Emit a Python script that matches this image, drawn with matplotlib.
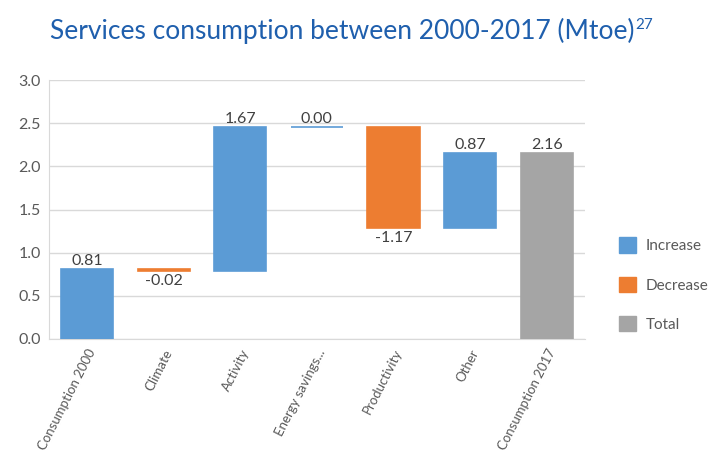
import matplotlib.pyplot as plt
from matplotlib.patches import Patch
import numpy as np

BLUE = '#5B9BD5'
ORANGE = '#ED7D31'
GREY = '#A5A5A5'
TEXT = '#595959'

categories = ['Consumption 2000', 'Climate', 'Activity', 'Energy savings...',
              'Productivity', 'Other', 'Consumption 2017']
changes = [0.81, -0.02, 1.67, 0.00, -1.17, 0.87, 2.16]
kinds = ['Increase', 'Decrease', 'Increase', 'Increase', 'Decrease', 'Increase', 'Total']
y_ticks = [0.0, 0.5, 1.0, 1.5, 2.0, 2.5, 3.0]

colors = {'Increase': BLUE, 'Decrease': ORANGE, 'Total': GREY}

plt.rcParams['font.family'] = ['Lato', 'DejaVu Sans']

fig = plt.figure(figsize=(7.09, 4.63), dpi=100)
ax = fig.add_axes([0.069, 0.268, 0.756, 0.559])

# waterfall: first bar from zero, steps float, total from zero
bottoms = []
running = 0.0
for i, (v, k) in enumerate(zip(changes, kinds)):
    if i == 0 or k == 'Total':
        bottoms.append(0.0)
        running = v
    else:
        bottoms.append(running if v >= 0 else running + v)
        running += v

x = np.arange(len(categories))
for xi, v, b, k in zip(x, changes, bottoms, kinds):
    h = abs(v)
    ax.bar(xi, h, bottom=b, width=0.68, color=colors[k],
           edgecolor=colors[k], linewidth=1.2, zorder=3)
    if v >= 0:
        ax.text(xi, b + h + 0.01, f'{v:.2f}', ha='center', va='bottom',
                fontsize=11.5, color='#404040')
    else:
        ax.text(xi, b - 0.04, f'{v:.2f}', ha='center', va='top',
                fontsize=11.5, color='#404040')

ax.set_xlim(-0.5, len(categories) - 0.5)
ax.set_ylim(0, 3.0)
ax.set_yticks(y_ticks)
ax.set_yticklabels([f'{t:.1f}' for t in y_ticks], fontsize=11.5, color=TEXT)
ax.set_xticks(x)
ax.set_xticklabels(categories, rotation=63, ha='right', rotation_mode='anchor',
                   fontsize=9.5, color=TEXT)
ax.tick_params(length=0, pad=6)
ax.tick_params(axis='x', pad=6)
ax.grid(axis='y', color='#D9D9D9', linewidth=1, zorder=0)
for s in ['top', 'right']:
    ax.spines[s].set_visible(False)
for s in ['left', 'bottom']:
    ax.spines[s].set_color('#D9D9D9')

handles = [Patch(color=BLUE, label='Increase'),
           Patch(color=ORANGE, label='Decrease'),
           Patch(color=GREY, label='Total')]
fig.legend(handles=handles, loc='center left', bbox_to_anchor=(0.853, 0.385),
           frameon=False, fontsize=11, labelspacing=1.55, handlelength=1.15,
           handleheight=1.15, handletextpad=0.6, labelcolor=TEXT)

t = fig.text(0.07, 0.915, 'Services consumption between 2000-2017 (Mtoe)',
             fontsize=19, color='#1F5FAD', ha='left', va='baseline')
fig.canvas.draw()
bb = t.get_window_extent()
fig.text((bb.x1 + 1) / fig.bbox.width, 0.915 + 0.022, '27',
         fontsize=11, color='#1F5FAD', ha='left', va='baseline')

fig.savefig('out.png', dpi=100)
